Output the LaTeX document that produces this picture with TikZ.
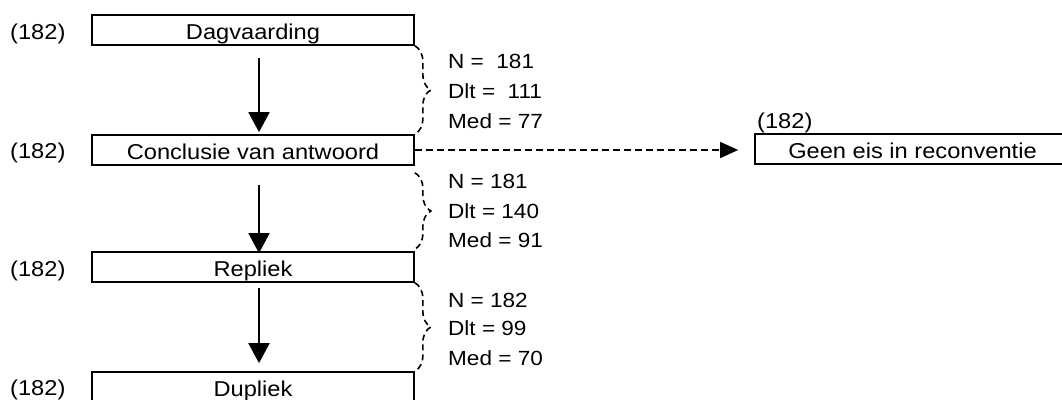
\documentclass[tikz,border=0pt]{standalone}
\usepackage{fontspec}
\setmainfont{Liberation Sans}[FakeStretch=1.1]
\usetikzlibrary{arrows.meta,decorations.pathreplacing}
\begin{document}
\begin{tikzpicture}[x=1pt,y=-1pt,
  box/.style={draw,line width=1.7pt,inner sep=0pt,minimum width=322pt,minimum height=30pt,text height=18pt,text depth=0pt,font=\fontsize{21.5}{25}\selectfont},
  lbl/.style={inner sep=0pt,anchor=base west,font=\fontsize{21.5}{25}\selectfont},
  stat/.style={inner sep=0pt,anchor=base west,font=\fontsize{20.5}{24}\selectfont},
  flow/.style={line width=1.9pt,-{Triangle[width=21pt,length=20pt]}},
  alt/.style={line width=1.6pt,dash pattern=on 7pt off 4pt,-{Triangle[width=16pt,length=18pt]}},
  brc/.style={line width=1.6pt,dash pattern=on 6pt off 4pt,decorate,decoration={brace,amplitude=16pt}}]
\useasboundingbox (0,0) rectangle (1062,399);
\fill[white] (0,0) rectangle (1062,399);
% boxes
\node[box] (b1) at (253,30) {Dagvaarding};
\node[box] (b2) at (253,150) {Conclusie van antwoord};
\node[box] (b3) at (253,267) {Repliek};
\node[box] (b4) at (253,387) {Dupliek};
\node[box,minimum width=315pt] (geen) at (912.5,149) {Geen eis in reconventie};
% counts
\node[lbl] (l1) at (10,39) {(182)};
\node[lbl] (l2) at (10,158) {(182)};
\node[lbl] (l3) at (10,276) {(182)};
\node[lbl] (l4) at (10,395) {(182)};
\node[lbl] (l5) at (757,128) {(182)};
% stats
\node[stat] (n1) at (448,68) {N = \ 181};
\node[stat] (d1) at (448,98) {Dlt = \ 111};
\node[stat] (m1) at (448,128) {Med = 77};
\node[stat] (n2) at (448,188) {N = 181};
\node[stat] (d2) at (448,218) {Dlt = 140};
\node[stat] (m2) at (448,247) {Med = 91};
\node[stat] (n3) at (448,307) {N = 182};
\node[stat] (d3) at (448,335) {Dlt = 99};
\node[stat] (m3) at (448,365) {Med = 70};
% arrows
\coordinate (a1) at (259,58);
\coordinate (a2) at (259,185);
\coordinate (a3) at (259,288);
\draw[flow,shorten >=2pt] (a1) -- (a1 |- b2.north);
\draw[flow,shorten >=-2pt] (a2) -- (a2 |- b3.north);
\draw[flow,shorten >=8pt] (a3) -- (a3 |- b4.north);
\draw[alt,shorten >=16pt] (b2.east) -- (b2.east -| geen.west);
% braces
\draw[brc] (b1.south east) -- (b2.north east);
\draw[brc] ([yshift=-7pt]b2.south east) -- ([yshift=2pt]b3.north east);
\draw[brc] (b3.south east) -- (b4.north east);
\end{tikzpicture}
\end{document}
